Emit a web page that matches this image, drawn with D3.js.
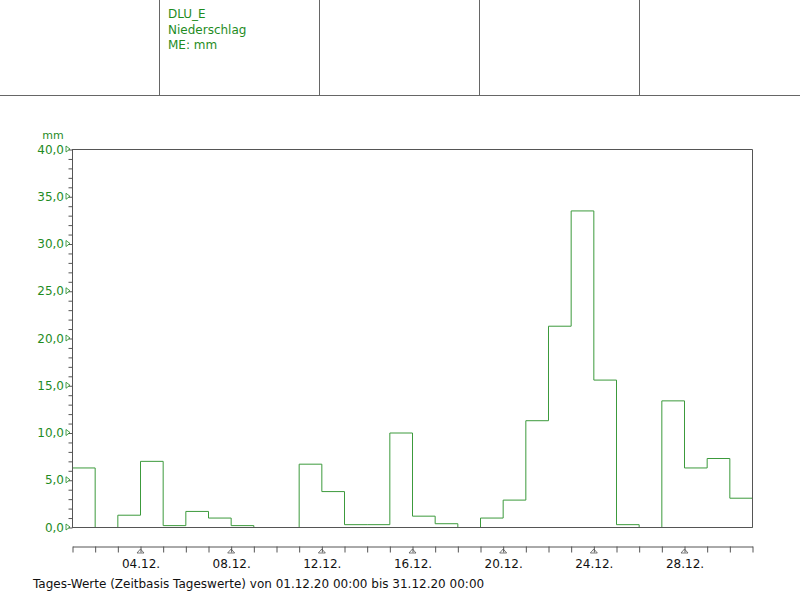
<!DOCTYPE html>
<html lang="de">
<head>
<meta charset="utf-8">
<title>DLU_E Niederschlag</title>
<style>
    body { margin: 0; background: #fff; }
    svg { display: block; font-family: "DejaVu Sans", Verdana, sans-serif; }
</style>
</head>
<body>
<script src="https://cdn.jsdelivr.net/npm/d3@7/dist/d3.min.js"></script>
<script>
    // Tageswerte Niederschlag Dezember 2020 (mm), Tag 01. bis 30.
    const days = d3.range(1, 31);
    const values = [6.3, 0, 1.3, 7.0, 0.2, 1.7, 1.0, 0.2, 0, 0,
                     6.7, 3.8, 0.3, 0.3, 10.0, 1.2, 0.4, 0, 1.0, 2.9,
                     11.3, 21.3, 33.5, 15.6, 0.3, 0, 13.4, 6.3, 7.3, 3.1];
    const xTickDays = [4, 8, 12, 16, 20, 24, 28];
    const yTicks = [0, 5, 10, 15, 20, 25, 30, 35, 40];
    const headerLines = ["DLU_E", "Niederschlag", "ME: mm"];
    const footer = "Tages-Werte (Zeitbasis Tageswerte) von 01.12.20 00:00 bis 31.12.20 00:00";

    const width = 800, height = 600;
    const green = "#1f8c1f", lineGreen = "#3c9a3c", frame = "#555";
    const plot = {left: 72, right: 752, top: 149, bottom: 527};

    const svg = d3.select("body").append("svg")
        .attr("width", width)
        .attr("height", height);

    // header boxes
    const header = svg.append("g").attr("stroke", "#666").attr("stroke-width", 1);
    header.append("line").attr("x1", 0).attr("x2", 800).attr("y1", 95.5).attr("y2", 95.5);
    [160, 320, 480, 640].forEach(x => {
        header.append("line").attr("x1", x - 0.5).attr("x2", x - 0.5).attr("y1", 0).attr("y2", 95);
    });
    svg.append("g").selectAll("text")
        .data(headerLines)
        .join("text")
        .attr("x", 168)
        .attr("y", (d, i) => 18 + i * 15.5)
        .attr("fill", green)
        .attr("font-size", 12)
        .text(d => d);

    // scales: x in day boundaries (0 = 01.12. 00:00, 30 = 31.12. 00:00)
    const x = d3.scaleLinear().domain([0, 30]).range([plot.left, plot.right]);
    const y = d3.scaleLinear().domain([0, 40]).range([plot.bottom, plot.top]);
    const fmt = d3.formatLocale({decimal: ",", thousands: ".", grouping: [3], currency: ["", "€"]}).format(".1f");

    // precipitation step line
    const stepData = values.map((v, i) => [i, v]).concat([[30, values[29]]]);
    const line = d3.line()
        .x(d => x(d[0]))
        .y(d => y(d[1]))
        .curve(d3.curveStepAfter);
    svg.append("path")
        .datum([[0, 0]].concat(stepData, [[30, 0]]))
        .attr("fill", "none")
        .attr("stroke", lineGreen)
        .attr("stroke-width", 1)
        .attr("d", line)
        .attr("transform", "translate(0.5,0.5)");

    // plot frame (top, right, bottom)
    svg.append("path")
        .attr("fill", "none")
        .attr("stroke", frame)
        .attr("d", `M${plot.left},${plot.top + 0.5}H${plot.right + 0.5}V${plot.bottom + 0.5}H${plot.left}`);

    // y axis
    const yAxis = svg.append("g")
        .attr("transform", `translate(${plot.left + 0.5},0.5)`)
        .call(d3.axisLeft(y).tickValues(d3.range(0, 41, 1)).tickSize(4).tickFormat(""));
    yAxis.select(".domain").attr("stroke", frame).attr("d", `M0,${plot.top}V${plot.bottom}`);
    yAxis.selectAll(".tick line").attr("stroke", frame);

    const yLab = svg.append("g");
    yLab.selectAll("text")
        .data(yTicks)
        .join("text")
        .attr("x", 64)
        .attr("y", d => y(d) + 4.5)
        .attr("text-anchor", "end")
        .attr("fill", green)
        .attr("font-size", 12)
        .text(d => fmt(d));
    yLab.selectAll("path")
        .data(yTicks)
        .join("path")
        .attr("fill", "none")
        .attr("stroke", green)
        .attr("stroke-width", 0.8)
        .attr("d", d => `M66,${y(d) - 3}L70,${y(d)}L66,${y(d) + 3}Z`);
    svg.append("text")
        .attr("x", 53)
        .attr("y", 139)
        .attr("text-anchor", "middle")
        .attr("fill", green)
        .attr("font-size", 11)
        .text("mm");

    // x axis (separate, below the plot)
    const xAxisY = 546;
    const xAxis = svg.append("g")
        .attr("transform", `translate(0.5,${xAxisY + 0.5})`)
        .call(d3.axisBottom(x).tickValues(d3.range(0, 31)).tickSize(6).tickSizeOuter(0).tickFormat(""));
    xAxis.select(".domain").attr("stroke", frame);
    xAxis.selectAll(".tick line").attr("stroke", frame);

    const xLab = svg.append("g");
    xLab.selectAll("path")
        .data(xTickDays)
        .join("path")
        .attr("fill", "none")
        .attr("stroke", frame)
        .attr("stroke-width", 0.8)
        .attr("d", d => `M${x(d - 1) + 0.5},${xAxisY + 3}L${x(d - 1) + 4},${xAxisY + 7}L${x(d - 1) - 3},${xAxisY + 7}Z`);
    xLab.selectAll("text")
        .data(xTickDays)
        .join("text")
        .attr("x", d => x(d - 1) + 1)
        .attr("y", 568)
        .attr("text-anchor", "middle")
        .attr("fill", "#111")
        .attr("font-size", 12)
        .text(d => d3.format("02")(d) + ".12.");

    svg.append("text")
        .attr("x", 33)
        .attr("y", 588)
        .attr("fill", "#111")
        .attr("font-size", 12)
        .text(footer);
</script>
</body>
</html>
